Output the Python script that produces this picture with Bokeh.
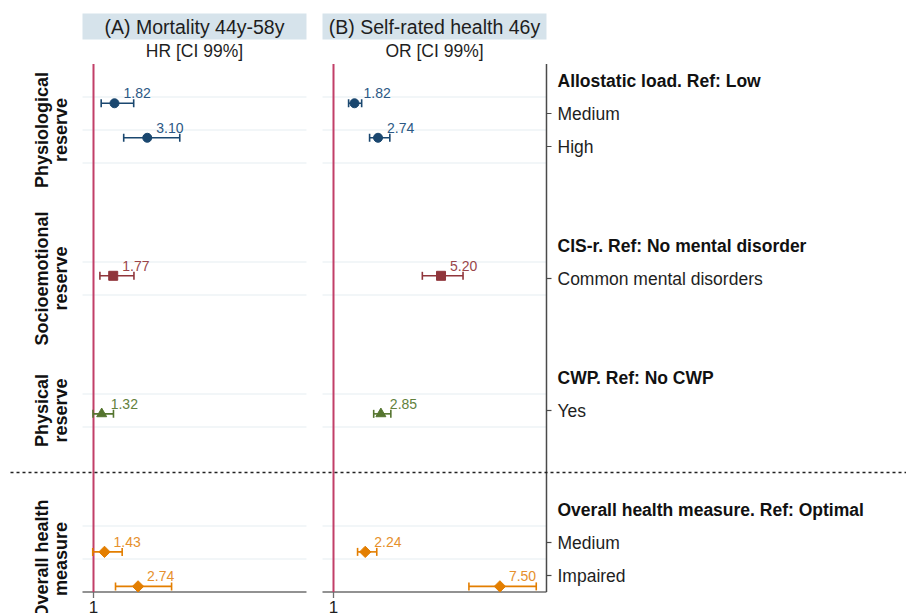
import math
from bokeh.plotting import figure
from bokeh.models import Range1d
from bokeh.core.properties import value
from bokeh.embed import file_html
from bokeh.resources import INLINE

# ---------------- data ----------------
panel_titles = ["(A) Mortality 44y-58y", "(B) Self-rated health 46y"]
panel_subtitles = ["HR [CI 99%]", "OR [CI 99%]"]
group_names = [["Physiological", "reserve"], ["Socioemotional", "reserve"],
               ["Physical", "reserve"], ["Overall health", "measure"]]
group_headers = ["Allostatic load. Ref: Low", "CIS-r. Ref: No mental disorder",
                 "CWP. Ref: No CWP", "Overall health measure. Ref: Optimal"]
header_rows = [0, 5, 9, 13]
item_labels = ["Medium", "High", "Common mental disorders", "Yes", "Medium", "Impaired"]
item_rows = [1, 2, 6, 10, 14, 15]
item_group = [0, 0, 1, 2, 3, 3]

hr = [1.82, 3.10, 1.77, 1.32, 1.43, 2.74]
hr_lo = [1.30, 2.18, 1.25, 0.98, 0.97, 1.86]
hr_hi = [2.57, 4.37, 2.58, 1.78, 2.12, 4.05]

or_ = [1.82, 2.74, 5.20, 2.85, 2.24, 7.50]
or_lo = [1.59, 2.41, 4.47, 2.57, 1.94, 6.29]
or_hi = [2.10, 3.20, 6.06, 3.24, 2.69, 8.92]

x_ticks = [1]
x_limits = [0.57, 9.32]

group_colors = ["#1a476f", "#90353b", "#55752f", "#e37e00"]
label_colors = ["#2c5884", "#9a4549", "#62813d", "#e6902c"]
group_markers = ["circle", "square", "triangle", "square"]
group_angles = [0, 0, 0, math.pi / 4]
group_sizes = [9, 9, 10, 8]

# ---------------- layout helpers (picture pixel -> data) ----------------
W, H = 906, 613
PX_PER_X = 25.6      # pixels per unit on x
PX_PER_ROW = 33.0    # pixels per row
X1_A = 93            # pixel of x=1 in panel A
X1_B = 333           # pixel of x=1 in panel B
ROW1 = 113           # pixel of row 1


def xa(px):
    return 1 + (px - X1_A) / PX_PER_X


def yr(py):
    return 1 + (py - ROW1) / PX_PER_ROW


FONT = value("Liberation Sans")

p = figure(width=W, height=H, output_backend="svg", toolbar_location=None,
           x_range=Range1d(xa(0), xa(W)),
           y_range=Range1d(yr(H), yr(0)),
           x_axis_location=None, y_axis_location=None, min_border=0,
           background_fill_color="white", border_fill_color="white")
p.outline_line_color = None
p.grid.visible = False
p.extra_x_ranges = {"B": Range1d(1 - X1_B / PX_PER_X, 1 + (W - X1_B) / PX_PER_X)}
# markers sit on a slightly stretched scale relative to the row labels
m0 = -0.31
ms = 1.0457
p.extra_y_ranges = {"M": Range1d(1 + ((yr(H) - 1) - m0) / ms, 1 + ((yr(0) - 1) - m0) / ms)}

XLO, XHI = x_limits
YTOP = min(header_rows) - 0.5
YBOT = max(item_rows) + 0.5
grid_rows = sorted(set([r - 0.5 for r in item_rows] + [r + 0.5 for r in item_rows]) - {YBOT})

panels = [("default", hr, hr_lo, hr_hi), ("B", or_, or_lo, or_hi)]
for k, (xr, est, lo, hi) in enumerate(panels):
    # header box + titles
    p.quad(left=[XLO], right=[XHI], top=[yr(13)], bottom=[yr(39)],
           fill_color="#d6e3eb", line_color=None, x_range_name=xr)
    p.text(x=[(XLO + XHI) / 2], y=[yr(26)], text=[panel_titles[k]],
           text_align="center", text_baseline="middle", text_font=FONT,
           text_font_size="19.5px", text_color="#1e1e1e", x_range_name=xr)
    p.text(x=[(XLO + XHI) / 2], y=[yr(50)], text=[panel_subtitles[k]],
           text_align="center", text_baseline="middle", text_font=FONT,
           text_font_size="17.5px", text_color="#1e1e1e", x_range_name=xr)
    # gridlines
    p.segment(x0=[XLO] * len(grid_rows), x1=[XHI] * len(grid_rows), y0=grid_rows, y1=grid_rows,
              line_color="#e6edf1", line_width=1.2, x_range_name=xr)
    # bottom axis
    p.segment(x0=[XLO], x1=[XHI], y0=[YBOT], y1=[YBOT], line_color="#6e6e6e",
              line_width=1.5, x_range_name=xr)
    p.ray(x=x_ticks, y=[YBOT] * len(x_ticks), length=6, length_units="screen",
          angle=-math.pi / 2, line_color="#6e6e6e", line_width=1.3, x_range_name=xr)
    p.text(x=x_ticks, y=[YBOT] * len(x_ticks), text=[str(t) for t in x_ticks], y_offset=9,
           text_align="center", text_baseline="top", text_font=FONT,
           text_font_size="17px", text_color="#1e1e1e", x_range_name=xr)
    # reference line
    p.segment(x0=[1], x1=[1], y0=[YTOP], y1=[YBOT], line_color="#c23f68",
              line_width=2, x_range_name=xr)
    # estimates
    for g in range(len(group_names)):
        idx = [i for i in range(len(est)) if item_group[i] == g]
        ys = [item_rows[i] for i in idx]
        e = [est[i] for i in idx]
        l = [lo[i] for i in idx]
        h = [hi[i] for i in idx]
        col = group_colors[g]
        p.segment(x0=l, x1=h, y0=ys, y1=ys, line_color=col, line_width=1.6,
                  x_range_name=xr, y_range_name="M")
        p.scatter(x=l + h, y=ys + ys, marker="dash", angle=math.pi / 2, size=8,
                  line_color=col, line_width=1.6, x_range_name=xr, y_range_name="M")
        p.scatter(x=e, y=ys, marker=group_markers[g], angle=group_angles[g],
                  size=group_sizes[g], fill_color=col, line_color=col,
                  x_range_name=xr, y_range_name="M")
        p.text(x=e, y=ys, text=[f"{v:.2f}" for v in e], x_offset=9, y_offset=-10,
               text_align="left", text_baseline="middle", text_font=FONT,
               text_font_size="14px", text_color=label_colors[g],
               x_range_name=xr, y_range_name="M")

# right axis of panel B
p.segment(x0=[XHI], x1=[XHI], y0=[YTOP], y1=[YBOT], line_color="#4a4a4a",
          line_width=1.5, x_range_name="B")
p.ray(x=[XHI] * len(item_rows), y=item_rows, length=5, length_units="screen", angle=0,
      line_color="#4a4a4a", line_width=1.2, x_range_name="B")
p.text(x=[XHI] * len(item_rows), y=item_rows, text=item_labels, x_offset=11,
       text_align="left", text_baseline="middle", text_font=FONT,
       text_font_size="17.5px", text_color="#1e1e1e", x_range_name="B")
p.text(x=[XHI] * len(header_rows), y=header_rows, text=group_headers, x_offset=11,
       text_align="left", text_baseline="middle", text_font=FONT, text_font_style="bold",
       text_font_size="17.5px", text_color="#111111", x_range_name="B")

# group labels (rotated) on the left
for g, names in enumerate(group_names):
    rows_g = [item_rows[i] for i in range(len(item_rows)) if item_group[i] == g]
    yc = sum(rows_g) / len(rows_g)
    for j, nm in enumerate(names):
        p.text(x=[xa([41.5, 60.5][j])], y=[yc], text=[nm], angle=math.pi / 2,
               text_align="center", text_baseline="middle", text_font=FONT,
               text_font_style="bold", text_font_size="18px", text_color="#111111")

# dashed separator
sep = yr(472)
p.segment(x0=[xa(10)], x1=[xa(W)], y0=[sep], y1=[sep], line_color="#222222",
          line_width=1.3, line_dash="3 3")

open("out.html", "w").write(file_html(p, INLINE))
